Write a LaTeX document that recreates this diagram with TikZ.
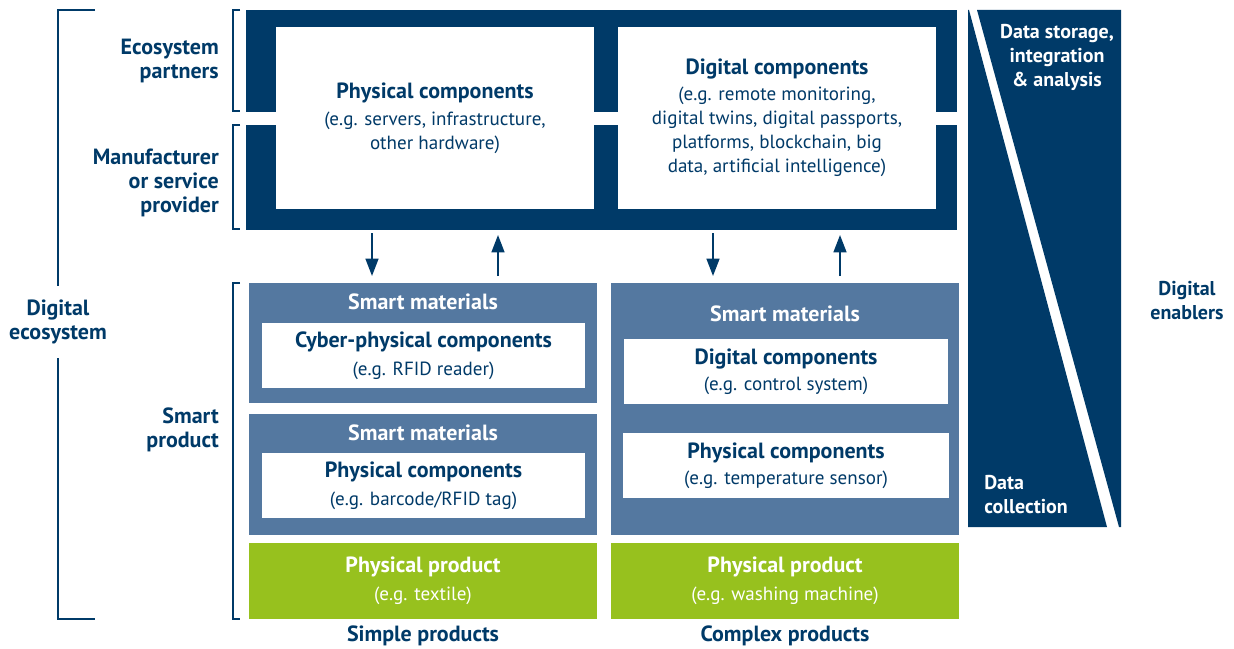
\documentclass[tikz,border=0pt]{standalone}
\usepackage{fontspec}
\setmainfont{PT Sans}
\usetikzlibrary{arrows.meta,fit}
\definecolor{navy}{RGB}{0,58,104}
\definecolor{midblue}{RGB}{84,120,160}
\definecolor{leaf}{RGB}{151,193,30}
\newcommand\hd[1]{{\bfseries\fontsize{16.5}{18}\selectfont #1}}
\tikzset{
  darkbox/.style={fill=navy,inner sep=0pt},
  smartbox/.style={fill=midblue,inner sep=0pt},
  whitebox/.style={fill=white,inner sep=0pt},
  greenbox/.style={fill=leaf,inner sep=0pt},
  btxt/.style={text=navy,align=center,inner sep=0pt,font=\fontsize{14.3}{18}\selectfont},
  gtxt/.style={text=white,align=center,inner sep=0pt,font=\fontsize{14.3}{18}\selectfont},
  lbl/.style={text=navy,inner sep=0pt,font=\bfseries\fontsize{16.5}{18}\selectfont},
  wlbl/.style={text=white,inner sep=0pt,font=\bfseries\fontsize{16.5}{18}\selectfont},
  clbl/.style={inner sep=0pt,font=\bfseries\fontsize{15}{18}\selectfont},
  brk/.style={draw=navy,line width=1.5pt},
  arr/.style={draw=navy,line width=1.7pt,-{Triangle[length=13pt,width=9.5pt]}},
}
\begin{document}
\begin{tikzpicture}[x=0.75pt,y=0.75pt,yscale=-1,xscale=1]
\useasboundingbox (0,0) rectangle (1234,649);

%Shape: Bracket digital ecosystem
\draw[brk] (95,10) -- (58,10) -- (58,286);
\draw[brk] (58,358) -- (58,619) -- (95,619);
%Shape: Brackets levels
\draw[brk] (240,10) -- (233,10) -- (233,111) -- (240,111);
\draw[brk] (240,125) -- (233,125) -- (233,229) -- (240,229);
\draw[brk] (240,283) -- (233,283) -- (233,619) -- (240,619);

% Text Node
\node (ecosys) [lbl,align=center] at (58,322) {Digital\\ecosystem};
% Text Node
\node (partners) [lbl,align=right,anchor=east] at (219,61) {Ecosystem\\partners};
% Text Node
\node (maker) [lbl,align=right,anchor=east] at (219,183) {Manufacturer\\or service\\provider};
% Text Node
\node (smartprod) [lbl,align=right,anchor=east] at (219,430) {Smart\\product};

%Shape: Rectangle core
\node (coreTop) [darkbox,fit={(246,10) (957,112)}] {};
\node (coreBot) [darkbox,fit={(246,125) (957,230)}] {};
\node (physTop) [whitebox,fit={(276,27) (594,209)}] {};
\node [btxt] at (physTop) {\hd{Physical components}\\[2.25pt](e.g. servers, infrastructure,\\other hardware)};
\node (digTop) [whitebox,fit={(618,27) (936,209)}] {};
\node [btxt] at (digTop) {\hd{Digital components}\\[1.5pt](e.g. remote monitoring,\\digital twins, digital passports,\\platforms, blockchain, big\\data, artificial intelligence)};

%Shape: Simple products
\node (smA) [smartbox,fit={(249,283) (597,403)}] {};
\node (smAlbl) [wlbl] at (423,302) {Smart materials};
\node (cyber) [whitebox,fit={(262,323) (585,388)}] {};
\node [btxt] at (cyber) {\hd{Cyber-physical components}\\[3pt](e.g. RFID reader)};
\node (smB) [smartbox,fit={(249,414) (597,535)}] {};
\node (smBlbl) [wlbl] at (423,433) {Smart materials};
\node (physA) [whitebox,fit={(262,453) (585,518)}] {};
\node [btxt] at (physA) {\hd{Physical components}\\[3pt](e.g. barcode/RFID tag)};
\node (prodA) [greenbox,fit={(249,543) (597,619)}] {};
\node [gtxt] at (prodA) {\hd{Physical product}\\[3pt](e.g. textile)};
\node (simple) [lbl] at (423,636) {Simple products};

%Shape: Complex products
\node (smC) [smartbox,fit={(611,283) (959,535)}] {};
\node (smClbl) [wlbl] at (785,314) {Smart materials};
\node (digB) [whitebox,fit={(624,339) (948,404)}] {};
\node [btxt] at (digB) {\hd{Digital components}\\[1.5pt](e.g. control system)};
\node (physB) [whitebox,fit={(623,433) (949,498)}] {};
\node [btxt] at (physB) {\hd{Physical components}\\[1.5pt](e.g. temperature sensor)};
\node (prodB) [greenbox,fit={(611,543) (959,619)}] {};
\node [gtxt] at (prodB) {\hd{Physical product}\\[3pt](e.g. washing machine)};
\node (complex) [lbl] at (785,636) {Complex products};

%Straight Lines arrows
\draw[arr,shorten <=2.25pt,shorten >=5pt] (coreBot.south -| 372,0) -- (smA.north -| 372,0);
\draw[arr,shorten <=5pt,shorten >=3.5pt] (smA.north -| 498,0) -- (coreBot.south -| 498,0);
\draw[arr,shorten <=2.25pt,shorten >=5pt] (coreBot.south -| 713,0) -- (smC.north -| 713,0);
\draw[arr,shorten <=5pt,shorten >=3.5pt] (smC.north -| 840,0) -- (coreBot.south -| 840,0);

%Shape: Enablers column
\fill[navy] (968,10) -- (969,10) -- (1107,527) -- (968,527) -- cycle;
\fill[navy] (977,10) -- (1121,10) -- (1121,527) -- (1119,527) -- cycle;
% Text Node
\node (storage) [clbl,text=white,align=center] at (1057,57) {Data storage,\\integration\\\& analysis};
% Text Node
\node (collect) [clbl,text=white,align=left,anchor=west] at (984,495) {Data\\collection};
% Text Node
\node (enablers) [clbl,text=navy,align=center] at (1187,301) {Digital\\enablers};

\end{tikzpicture}
\end{document}
